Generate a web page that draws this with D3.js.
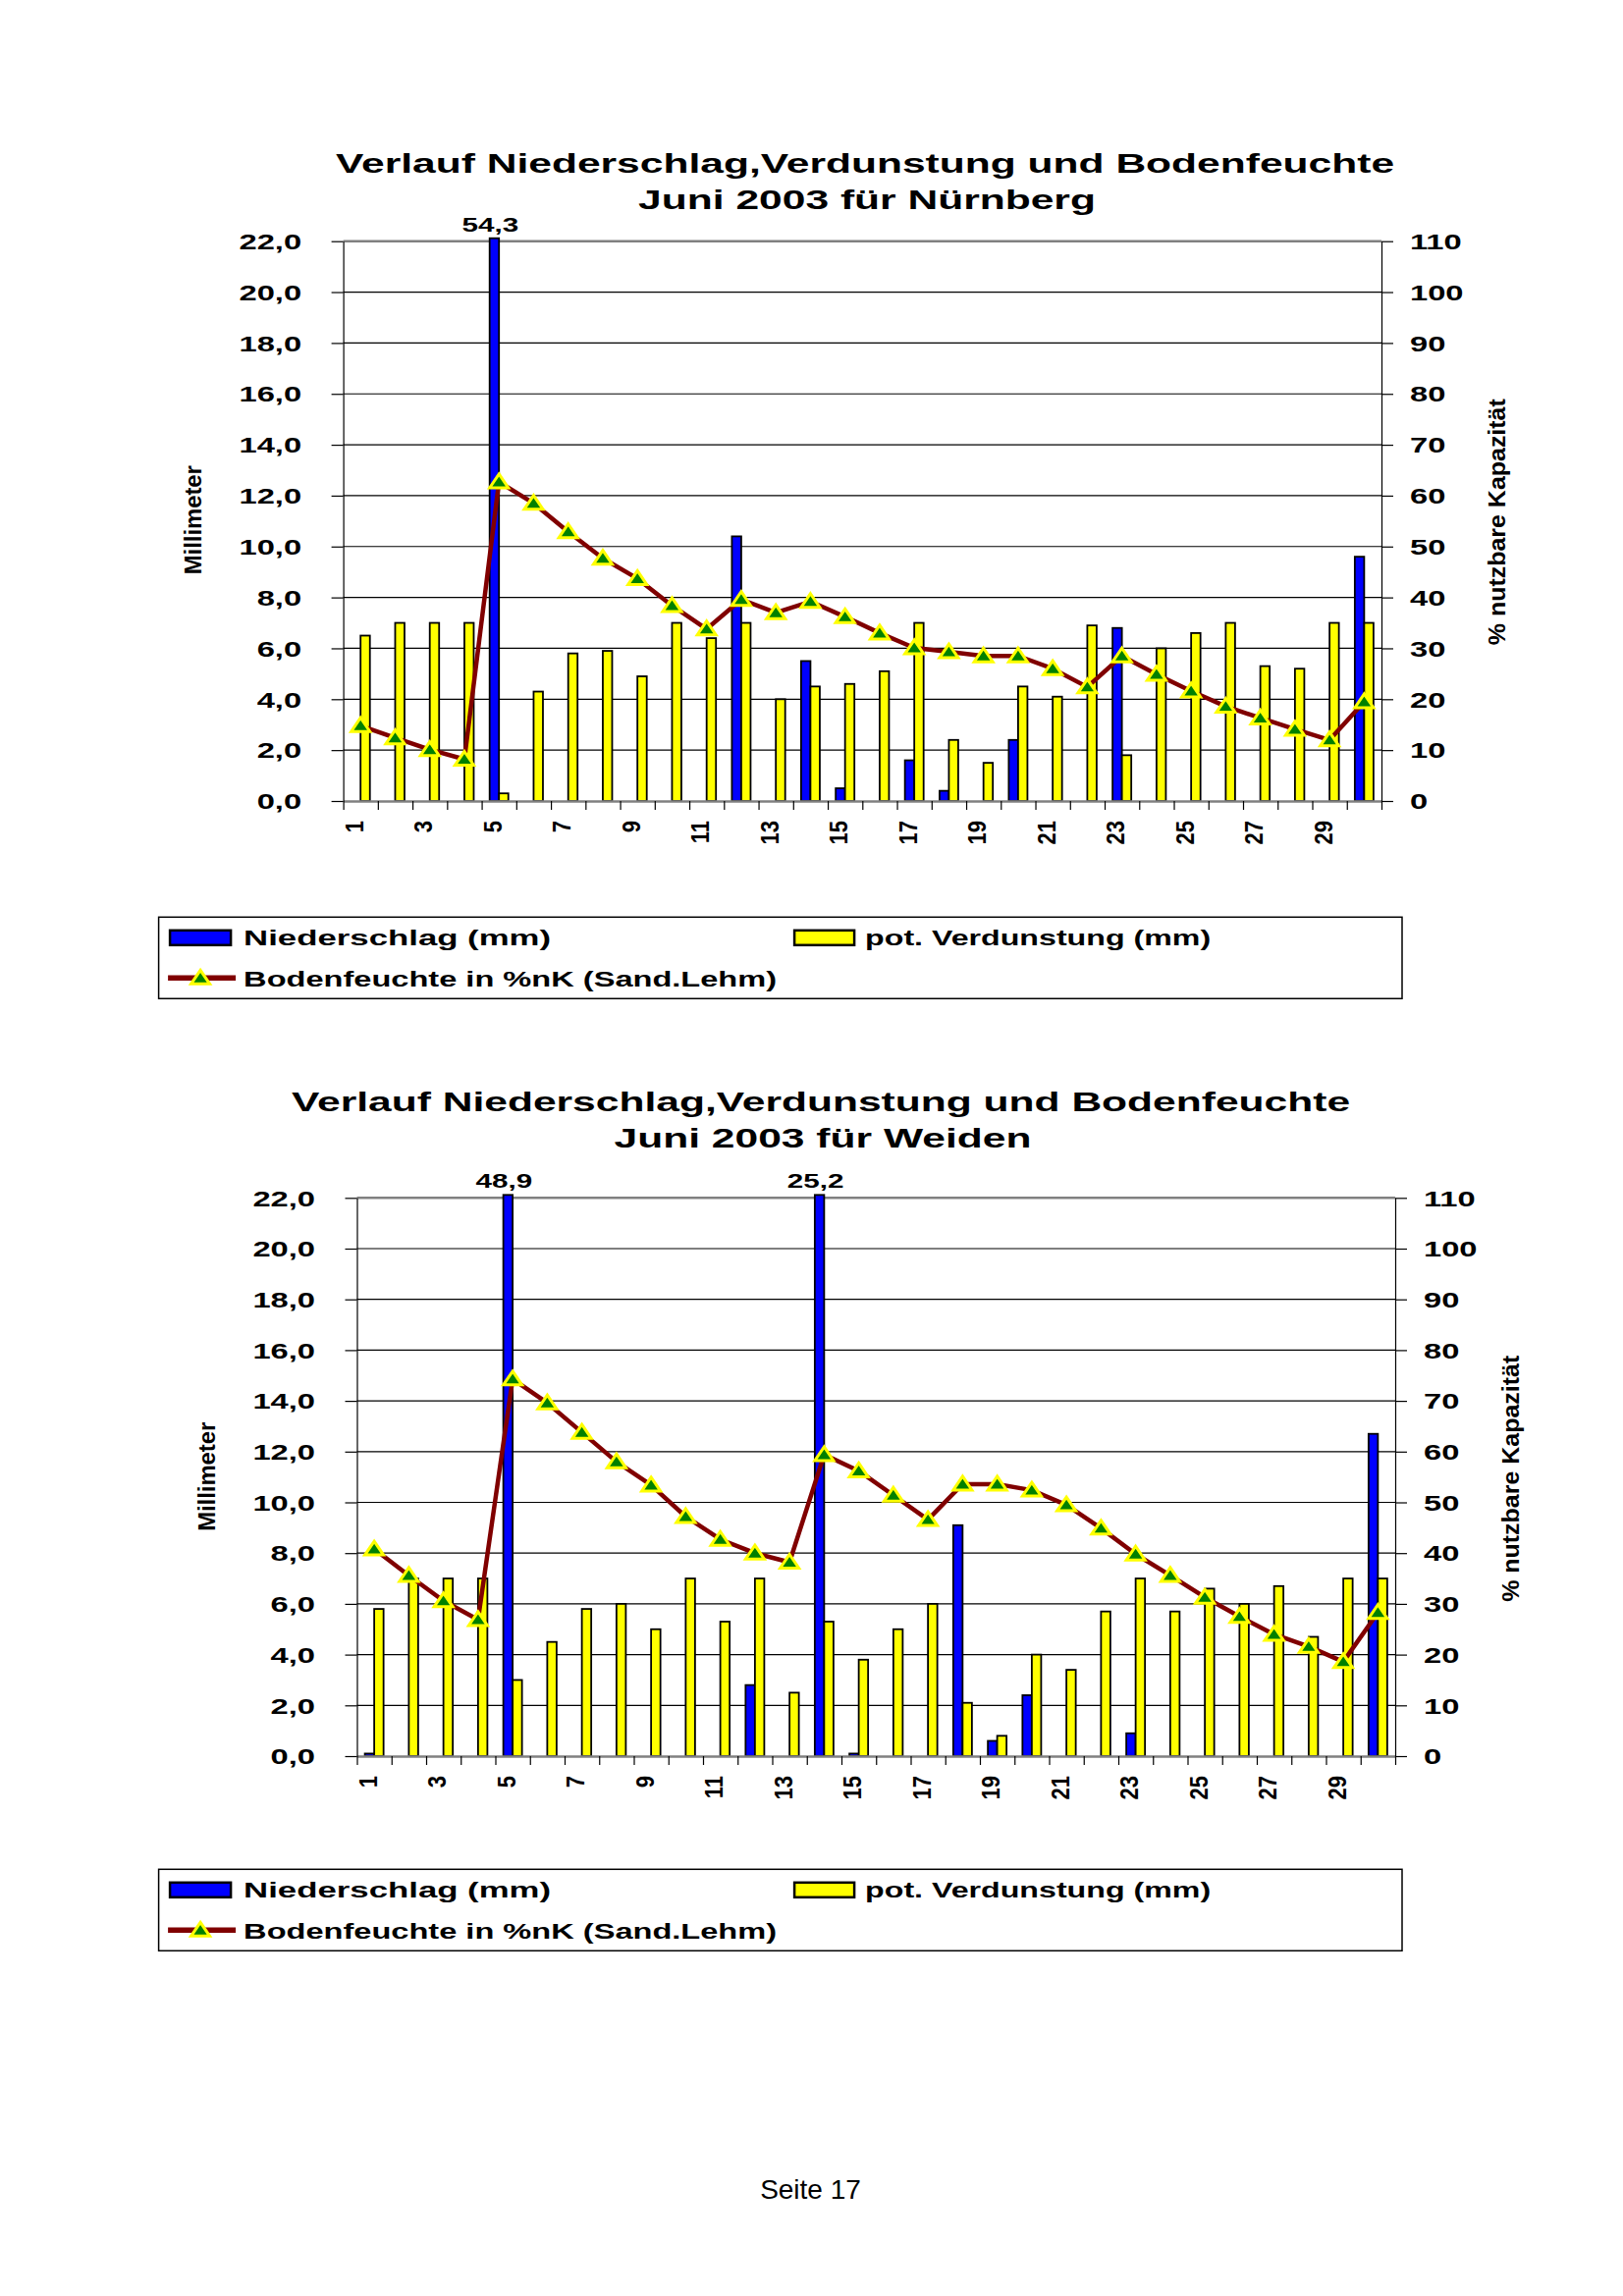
<!DOCTYPE html>
<html><head><meta charset="utf-8">
<script src="https://cdn.jsdelivr.net/npm/d3@7"></script>
<style>body{margin:0;background:#fff} svg{display:block}</style>
</head><body>
<script>
// ---------- data ----------
const days = [1,2,3,4,5,6,7,8,9,10,11,12,13,14,15,16,17,18,19,20,21,22,23,24,25,26,27,28,29,30];
const xTickLabels = [1,3,5,7,9,11,13,15,17,19,21,23,25,27,29];
const leftTicks = [0,2,4,6,8,10,12,14,16,18,20,22];
const rightTicks = [0,10,20,30,40,50,60,70,80,90,100,110];
const seriesNames = ["Niederschlag (mm)", "pot. Verdunstung (mm)", "Bodenfeuchte in %nK (Sand.Lehm)"];
const titleLine1 = "Verlauf Niederschlag,Verdunstung und Bodenfeuchte";
const titlesLine2 = ["Juni 2003 für Nürnberg", "Juni 2003 für Weiden"];
const leftAxisTitle = "Millimeter";
const rightAxisTitle = "% nutzbare Kapazität";

const nbgNiederschlag = [0,0,0,0,54.3,0,0,0,0,0,0,10.4,0,5.5,0.5,0,1.6,0.4,0,2.4,0,0,6.8,0,0,0,0,0,0,9.6];
const nbgVerdunstung  = [6.5,7.0,7.0,7.0,0.3,4.3,5.8,5.9,4.9,7.0,6.4,7.0,4.0,4.5,4.6,5.1,7.0,2.4,1.5,4.5,4.1,6.9,1.8,6.0,6.6,7.0,5.3,5.2,7.0,7.0];
const nbgBodenfeuchte = [14.8,12.4,10.1,8.2,62.7,58.5,52.9,47.7,43.7,38.4,33.8,39.6,37.0,39.2,36.2,33.0,30.1,29.3,28.5,28.5,26.0,22.4,28.5,24.9,21.6,18.6,16.3,14.1,12.0,19.5];

const weiNiederschlag = [0.1,0,0,0,48.9,0,0,0,0,0,0,2.8,0,25.2,0.1,0,0,9.1,0.6,2.4,0,0,0.9,0,0,0,0,0,0,12.7];
const weiVerdunstung  = [5.8,7.0,7.0,7.0,3.0,4.5,5.8,6.0,5.0,7.0,5.3,7.0,2.5,5.3,3.8,5.0,6.0,2.1,0.8,4.0,3.4,5.7,7.0,5.7,6.6,6.0,6.7,4.7,7.0,7.0];
const weiBodenfeuchte = [40.8,35.6,30.6,26.9,74.3,69.6,63.8,58.0,53.4,47.2,42.7,40.0,38.2,59.4,56.2,51.4,46.6,53.6,53.6,52.4,49.5,44.9,39.8,35.6,31.3,27.5,24.0,21.6,18.6,28.3];

// ---------- setup ----------
const W = 1653, H = 2339;
const SX = 1.52;
const FONT = "'Liberation Sans', Arial, Helvetica, sans-serif";
const BLUE = "#0000ff", YELLOW = "#ffff00", LINE = "#800000", GREEN = "#008000", GRAY = "#808080";
const de = d3.formatLocale({decimal: ",", thousands: ".", grouping: [3], currency: ["", "€"]});
const fmt1 = de.format(".1f");

const svg = d3.select("body").append("svg").attr("width", W).attr("height", H)
  .style("background", "#fff");

function stext(g, x, y, str, size, anchor, len) {
  const t = g.append("text")
    .attr("transform", `translate(${x},${y}) scale(${SX},1)`)
    .attr("text-anchor", anchor || "start")
    .attr("font-family", FONT).attr("font-weight", "bold")
    .attr("font-size", size).attr("fill", "#000").text(str);
  if (len) t.attr("textLength", len / SX).attr("lengthAdjust", "spacingAndGlyphs");
  return t;
}

const triPath = "M0,-8 L9.5,6 L-9.5,6 Z";
const legendLens = [313, 352, 543];

function drawChart(cfg) {
  const g = svg.append("g");
  const x = d3.scaleBand().domain(days).range([cfg.left, cfg.right]).paddingInner(0.46).paddingOuter(0.23);
  const xs = d3.scaleBand().domain([0, 1]).range([0, x.bandwidth()]);
  const xb = d3.scaleLinear().domain([0, days.length]).range([cfg.left, cfg.right]);
  const y = d3.scaleLinear().domain([0, 22]).range([cfg.bottom, cfg.top]);
  const y2 = d3.scaleLinear().domain([0, 110]).range([cfg.bottom, cfg.top]);
  const cx = d => x(d) + x.bandwidth() / 2;

  // title
  stext(g, cfg.titleX, cfg.title1Y, titleLine1, 28, "middle");
  stext(g, cfg.titleX + 2, cfg.title2Y, cfg.title2, 28, "middle");

  // gridlines
  g.append("g").selectAll("line").data(leftTicks.filter(t => t > 0 && t < 22)).join("line")
    .attr("x1", cfg.left).attr("x2", cfg.right)
    .attr("y1", d => y(d)).attr("y2", d => y(d))
    .attr("stroke", "#000").attr("stroke-width", 1.2);
  // top border of plot
  g.append("line").attr("x1", cfg.left).attr("x2", cfg.right)
    .attr("y1", y(22)).attr("y2", y(22)).attr("stroke", GRAY).attr("stroke-width", 2.5);

  // bars
  const bars = g.append("g");
  [[cfg.nied, 0, BLUE], [cfg.verd, 1, YELLOW]].forEach(([vals, k, col]) => {
    bars.selectAll(null).data(days.map((d, i) => ({d, v: vals[i]})).filter(o => o.v > 0)).join("rect")
      .attr("x", o => x(o.d) + xs(k)).attr("width", xs.bandwidth())
      .attr("y", o => y(Math.min(o.v, 22)) - (o.v > 22 ? 3 : 0))
      .attr("height", o => y(0) - y(Math.min(o.v, 22)) + (o.v > 22 ? 3 : 0))
      .attr("fill", col).attr("stroke", "#000").attr("stroke-width", 1.8);
  });

  // x axis (category boundaries)
  const xa = g.append("g").attr("transform", `translate(0,${cfg.bottom})`)
    .call(d3.axisBottom(xb).tickValues(d3.range(days.length + 1)).tickSize(9).tickSizeOuter(0).tickFormat(""));
  xa.select(".domain").attr("stroke", GRAY).attr("stroke-width", 2.5);
  xa.selectAll(".tick line").attr("stroke", "#000").attr("stroke-width", 1.2);
  g.append("g").selectAll("text").data(xTickLabels).join("text")
    .attr("transform", d => `translate(${cx(d) - 7},${cfg.bottom + 20}) scale(1.2,1) rotate(-90)`)
    .attr("text-anchor", "end").attr("dy", "0.36em")
    .attr("font-family", FONT).attr("font-weight", "bold").attr("font-size", 22).text(d => d);

  // left axis
  const la = g.append("g").attr("transform", `translate(${cfg.left},0)`)
    .call(d3.axisLeft(y).tickValues(leftTicks).tickSize(12).tickSizeOuter(0).tickFormat(d => fmt1(d)));
  la.select(".domain").attr("stroke", "#000").attr("stroke-width", 1.2);
  la.selectAll(".tick line").attr("stroke", "#000").attr("stroke-width", 1.2);
  la.selectAll(".tick text").attr("x", null).attr("dy", "0.36em")
    .attr("transform", `translate(-42.5,0) scale(${SX},1)`)
    .attr("font-family", FONT).attr("font-weight", "bold").attr("font-size", 21.5).attr("fill", "#000");

  // right axis
  const ra = g.append("g").attr("transform", `translate(${cfg.right},0)`)
    .call(d3.axisRight(y2).tickValues(rightTicks).tickSize(12).tickSizeOuter(0).tickFormat(d3.format("d")));
  ra.select(".domain").attr("stroke", "#000").attr("stroke-width", 1.2);
  ra.selectAll(".tick line").attr("stroke", "#000").attr("stroke-width", 1.2);
  ra.selectAll(".tick text").attr("x", null).attr("dy", "0.36em")
    .attr("transform", `translate(29,0) scale(${SX},1)`)
    .attr("font-family", FONT).attr("font-weight", "bold").attr("font-size", 21.5).attr("fill", "#000");

  // axis titles
  g.append("text").attr("transform", `translate(${cfg.left - 153},${cfg.top + 284}) rotate(-90)`)
    .attr("text-anchor", "middle").attr("dy", "0.36em")
    .attr("font-family", FONT).attr("font-weight", "bold").attr("font-size", 24)
    .attr("textLength", 111).attr("lengthAdjust", "spacingAndGlyphs").text(leftAxisTitle);
  g.append("text").attr("transform", `translate(${cfg.right + 117},${cfg.top + 286}) rotate(-90)`)
    .attr("text-anchor", "middle").attr("dy", "0.36em")
    .attr("font-family", FONT).attr("font-weight", "bold").attr("font-size", 24)
    .attr("textLength", 251).attr("lengthAdjust", "spacingAndGlyphs").text(rightAxisTitle);

  // soil moisture line
  const pts = days.map((d, i) => ({d, v: cfg.boden[i]}));
  g.append("path").datum(pts)
    .attr("d", d3.line().x(o => cx(o.d)).y(o => y2(o.v)))
    .attr("fill", "none").attr("stroke", LINE).attr("stroke-width", 4.5).attr("stroke-linejoin", "round");
  g.append("g").selectAll("path").data(pts).join("path")
    .attr("transform", o => `translate(${cx(o.d)},${y2(o.v)})`)
    .attr("d", triPath).attr("fill", GREEN).attr("stroke", YELLOW).attr("stroke-width", 3).attr("stroke-linejoin", "miter");

  // labels of clipped bars
  days.forEach((d, i) => {
    const v = cfg.nied[i];
    if (v > 22) stext(g, x(d) + xs(0) + xs.bandwidth() / 2 - 4, cfg.top - 10, fmt1(v), 19.5, "middle");
  });

  // legend
  const L = cfg.legend;
  const lg = g.append("g");
  lg.append("rect").attr("x", L.x).attr("y", L.y).attr("width", L.w).attr("height", L.h)
    .attr("fill", "#fff").attr("stroke", "#000").attr("stroke-width", 1.5);
  lg.append("rect").attr("x", L.x + 11.5).attr("y", L.y + 13.5).attr("width", 62).attr("height", 15)
    .attr("fill", BLUE).attr("stroke", "#000").attr("stroke-width", 2.5);
  stext(lg, L.x + 86.5, L.y + 29, seriesNames[0], 22.5, "start", legendLens[0]);
  lg.append("rect").attr("x", L.x + 647.5).attr("y", L.y + 13.5).attr("width", 61).attr("height", 15)
    .attr("fill", YELLOW).attr("stroke", "#000").attr("stroke-width", 2.5);
  stext(lg, L.x + 719.5, L.y + 29, seriesNames[1], 22.5, "start", legendLens[1]);
  lg.append("line").attr("x1", L.x + 9.5).attr("x2", L.x + 78.5).attr("y1", L.y + 62).attr("y2", L.y + 62)
    .attr("stroke", LINE).attr("stroke-width", 5.5);
  lg.append("path").attr("transform", `translate(${L.x + 42.5},${L.y + 62})`).attr("d", triPath)
    .attr("fill", GREEN).attr("stroke", YELLOW).attr("stroke-width", 3);
  stext(lg, L.x + 86.5, L.y + 71, seriesNames[2], 22.5, "start", legendLens[2]);
}

drawChart({
  left: 349.6, right: 1407, top: 245.7, bottom: 816, titleX: 881, title1Y: 176, title2Y: 213.3,
  title2: titlesLine2[0],
  nied: nbgNiederschlag, verd: nbgVerdunstung, boden: nbgBodenfeuchte,
  legend: {x: 161.6, y: 934.3, w: 1266.4, h: 83}
});
drawChart({
  left: 363.5, right: 1421, top: 1220.3, bottom: 1789, titleX: 836, title1Y: 1131.7, title2Y: 1169.3,
  title2: titlesLine2[1],
  nied: weiNiederschlag, verd: weiVerdunstung, boden: weiBodenfeuchte,
  legend: {x: 161.6, y: 1904.3, w: 1266.4, h: 83}
});

svg.append("text").attr("x", 825.5).attr("y", 2240).attr("text-anchor", "middle")
  .attr("font-family", FONT).attr("font-size", 28).attr("fill", "#000").text("Seite 17");
</script>
</body></html>
